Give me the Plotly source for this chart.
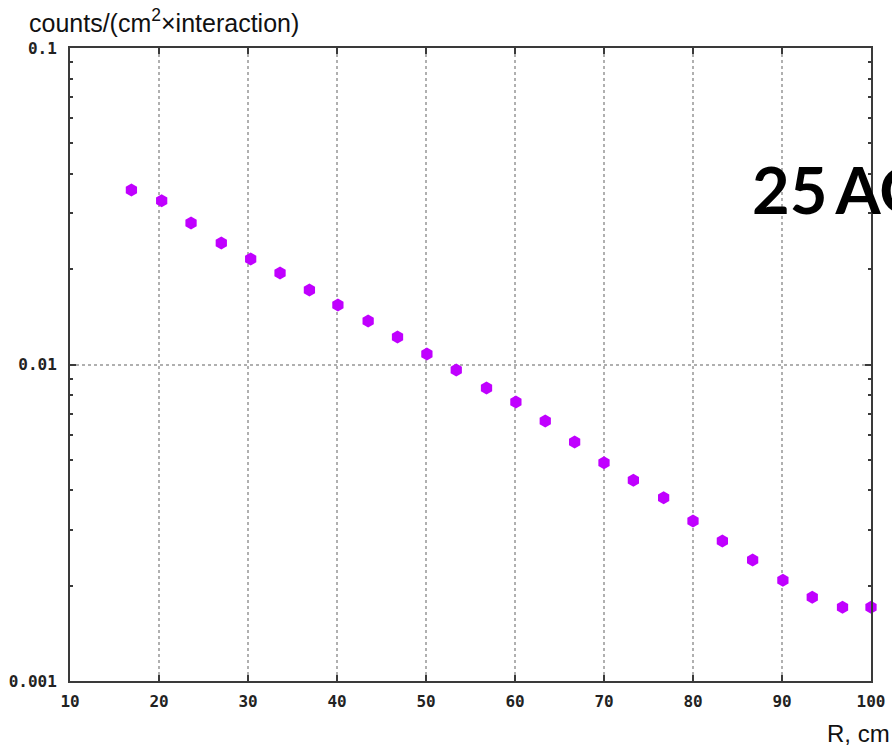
import plotly.graph_objects as go

r_cm = [16.9, 20.3, 23.6, 27.0, 30.3, 33.6, 36.9, 40.1, 43.5, 46.8, 50.1, 53.4, 56.8,
        60.1, 63.4, 66.7, 70.0, 73.3, 76.7, 80.0, 83.3, 86.7, 90.1, 93.4, 96.8, 100.0]
counts = [0.0356, 0.0329, 0.0280, 0.0242, 0.02154, 0.01946, 0.01720, 0.01542, 0.01372,
          0.01222, 0.01079, 0.00961, 0.00843, 0.00761, 0.00663, 0.00569, 0.00489, 0.00431,
          0.00379, 0.00320, 0.00277, 0.00241, 0.00208, 0.00184, 0.00171, 0.00171]
x_ticks = [10, 20, 30, 40, 50, 60, 70, 80, 90, 100]
y_ticks = [0.1, 0.01, 0.001]
y_ticklabels = ["0.1", "0.01", "0.001"]

fig = go.Figure()
fig.add_trace(go.Scatter(
    x=r_cm, y=counts, mode="markers",
    marker=dict(symbol="hexagon", size=13, color="#c000ff", line=dict(width=0)),
    cliponaxis=False, showlegend=False,
))

tickfont = dict(family="DejaVu Sans Mono", size=16, color="#222222", weight="bold")
axis_common = dict(
    showline=True, linecolor="#3a3a3a", linewidth=2, mirror="allticks",
    ticks="inside", ticklen=6, tickcolor="#3a3a3a", tickwidth=2,
    showgrid=True, gridcolor="#b0b0b0", griddash="dot", gridwidth=1.5,
    zeroline=False, tickfont=tickfont, automargin=False,
)
fig.update_xaxes(range=[10, 100], tickvals=x_ticks, ticklabelstandoff=5, **axis_common)
fig.update_yaxes(type="log", range=[-3, -1], tickvals=y_ticks, ticktext=y_ticklabels,
                 ticklabelstandoff=8,
                 minor=dict(ticks="inside", ticklen=3, tickcolor="#3a3a3a", showgrid=False,
                            tickvals=[0.002, 0.003, 0.004, 0.005, 0.006, 0.007, 0.008, 0.009,
                                      0.02, 0.03, 0.04, 0.05, 0.06, 0.07, 0.08, 0.09]),
                 **axis_common)

fig.add_annotation(xref="paper", yref="paper", x=0.0, xshift=-43, y=1.0, yshift=27,
                   text="counts/(cm<sup>2</sup>×interaction)", showarrow=False,
                   xanchor="left", yanchor="middle",
                   font=dict(family="Liberation Sans", size=25, color="#111111"))
fig.add_annotation(xref="paper", yref="paper", x=1.0, y=0.0, yshift=-52, xshift=21,
                   text="R, cm", showarrow=False, xanchor="right", yanchor="middle",
                   font=dict(family="Liberation Sans", size=24, color="#111111"))
fig.add_annotation(xref="paper", yref="paper", x=0.849, y=0.777,
                   text="<b>25\u2009AGeV</b>", showarrow=False, xanchor="left", yanchor="middle",
                   font=dict(family="Lato", size=65, color="#000000"))

fig.update_layout(
    width=892, height=748,
    margin=dict(l=70, r=21, t=48, b=67),
    paper_bgcolor="white", plot_bgcolor="white",
)
fig.write_html("out.html")
